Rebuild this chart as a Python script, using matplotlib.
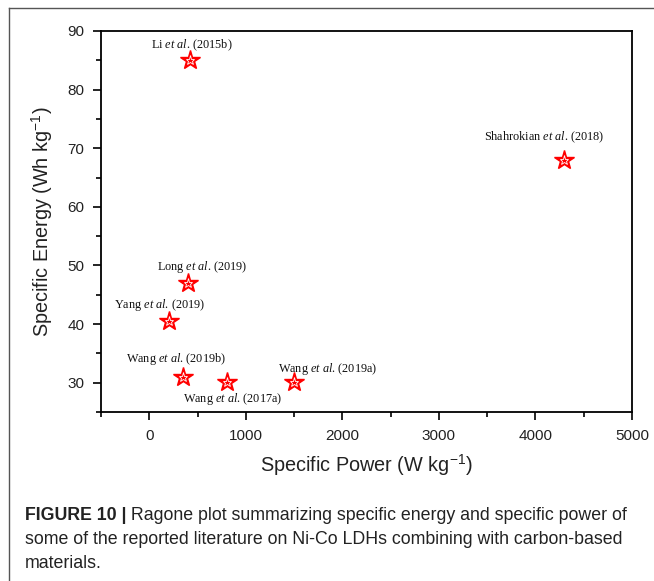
import matplotlib
matplotlib.use("Agg")
import matplotlib.pyplot as plt
from matplotlib.lines import Line2D
from matplotlib.ticker import MultipleLocator

# ---- data ----
power = [420, 4300, 400, 200, 350, 800, 1500]          # W kg-1
energy = [85.0, 68.0, 47.0, 40.5, 31.0, 30.2, 30.2]    # Wh kg-1
authors = ["Li", "Shahrokian", "Long", "Yang", "Wang", "Wang", "Wang"]
years = ["(2015b)", "(2018)", "(2019)", "(2019)", "(2019b)", "(2017a)", "(2019a)"]
label_x = [440, 4090, 550, 104, 280, 860, 1845]
label_y = [87.5, 71.8, 49.7, 43.3, 34.1, 27.2, 32.4]
x_ticks = [0, 1000, 2000, 3000, 4000, 5000]
y_ticks = [30, 40, 50, 60, 70, 80, 90]
caption_bold = "FIGURE 10 |"
caption_lines = [" Ragone plot summarizing specific energy and specific power of",
                 "some of the reported literature on Ni-Co LDHs combining with carbon-based",
                 "materials."]

plt.rcParams['mathtext.fontset'] = 'custom'
plt.rcParams['mathtext.rm'] = 'Liberation Serif'
plt.rcParams['mathtext.it'] = 'Liberation Serif:italic'
plt.rcParams['mathtext.sf'] = 'Liberation Sans'

W, H = 654, 581
fig = plt.figure(figsize=(W / 100, H / 100), dpi=100)

# outer frame of the figure panel
fig.add_artist(Line2D([9 / W, 9 / W], [0, 1 - 8 / H], transform=fig.transFigure,
                      color='#555555', lw=1.0))
fig.add_artist(Line2D([9 / W, 1], [1 - 8 / H, 1 - 8 / H], transform=fig.transFigure,
                      color='#555555', lw=1.0))

ax = fig.add_axes([101 / W, 1 - 412 / H, (632 - 101) / W, (412 - 31) / H])
ax.set_xlim(-500, 5000)
ax.set_ylim(25, 90)

ax.plot(power, energy, linestyle='none', marker='*', markersize=15,
        markerfacecolor='red', markeredgecolor='red', zorder=3)
ax.plot(power, energy, linestyle='none', marker='*', markersize=6.5,
        markerfacecolor='none', markeredgecolor='white', markeredgewidth=0.6, zorder=4)

for a, yr, lx, ly in zip(authors, years, label_x, label_y):
    ax.text(lx, ly, a + r" $\mathit{et\ al}$. " + yr, ha='center', va='center',
            fontsize=8.8, family='Liberation Serif', color='#111111')

ax.set_xticks(x_ticks)
ax.set_yticks(y_ticks)
ax.xaxis.set_minor_locator(MultipleLocator(500))
ax.yaxis.set_minor_locator(MultipleLocator(5))
ax.tick_params(which='both', direction='out', top=False, right=False, width=1.2)
ax.tick_params(which='major', length=6, labelsize=11, pad=6)
ax.tick_params(which='minor', length=3.5)
for lab in ax.get_xticklabels() + ax.get_yticklabels():
    lab.set_family('Liberation Sans')
    lab.set_color('#222222')
for s in ax.spines.values():
    s.set_linewidth(1.3)

ax.set_xlabel(r"Specific Power (W kg$^{\mathsf{-1}}$)", fontsize=14.3,
              family='Liberation Sans', labelpad=7, color='#222222')
ax.set_ylabel(r"Specific Energy (Wh kg$^{\mathsf{-1}}$)", fontsize=14.3,
              family='Liberation Sans', labelpad=9, color='#222222')

# caption
cap_fs = 12.8
cap_x = 25 / W
tb = fig.text(cap_x, 1 - 516 / H, caption_bold, fontsize=cap_fs, fontweight='bold',
              family='Liberation Sans', va='center', ha='left', color='#222222')
fig.canvas.draw()
bb = tb.get_window_extent(renderer=fig.canvas.get_renderer())
x_after = bb.x1 / W
fig.text(x_after, 1 - 516 / H, caption_lines[0], fontsize=cap_fs,
         family='Liberation Sans', va='center', ha='left', color='#222222')
fig.text(cap_x, 1 - 540 / H, caption_lines[1], fontsize=cap_fs,
         family='Liberation Sans', va='center', ha='left', color='#222222')
fig.text(cap_x, 1 - 563 / H, caption_lines[2], fontsize=cap_fs,
         family='Liberation Sans', va='center', ha='left', color='#222222')

fig.savefig("out.png", dpi=100)
